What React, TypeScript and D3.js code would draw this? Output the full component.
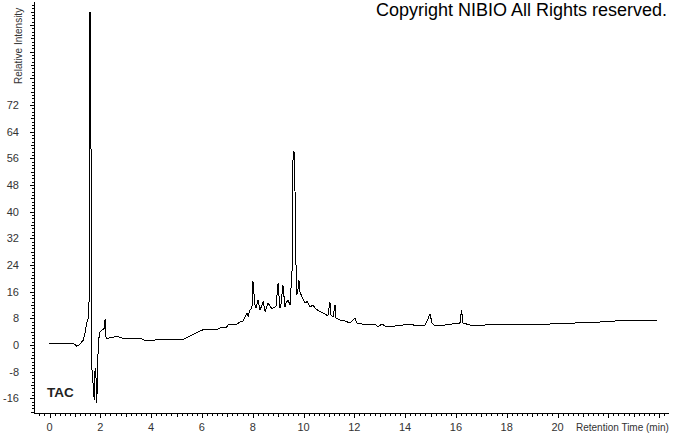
import React from "react";
import * as d3 from "d3";

// Retention time (min) and relative intensity
const times: number[] = [
  0.0, 0.14, 0.5, 0.93, 1.07, 1.2, 1.33, 1.4, 1.46, 1.5, 1.555, 1.56, 1.595, 1.62, 1.645, 1.66,
  1.72, 1.76, 1.79, 1.82, 1.86, 1.89, 1.92, 1.99, 2.08, 2.16, 2.19, 2.21, 2.25, 2.5, 2.65, 2.84,
  3.2, 3.63, 3.76, 4.15, 4.23, 4.55, 5.26, 5.53, 5.93, 6.12, 6.63, 6.79, 6.95, 7.03, 7.19, 7.34,
  7.5, 7.62, 7.7, 7.78, 7.82, 7.89, 7.97, 8.01, 8.09, 8.13, 8.21, 8.29, 8.41, 8.49, 8.6, 8.76,
  8.92, 9.0, 9.07, 9.11, 9.19, 9.27, 9.31, 9.39, 9.47, 9.55, 9.59, 9.65, 9.69, 9.74, 9.78, 9.82,
  9.86, 9.94, 10.06, 10.14, 10.26, 10.37, 10.49, 10.65, 10.85, 10.96, 11.04, 11.08, 11.16, 11.24,
  11.28, 11.44, 11.63, 11.83, 12.03, 12.09, 12.3, 12.62, 12.81, 12.93, 13.09, 13.2, 13.6, 14.27,
  14.39, 14.78, 14.9, 14.98, 15.06, 15.14, 15.57, 15.85, 16.16, 16.22, 16.28, 16.56, 17.15, 17.74,
  19.7, 21.67, 22.85, 23.92,
];
const intensity: number[] = [
  0.3, 0.6, 0.6, 0.6, -0.3, 0.2, 1.5, 3.6, 6.6, 7.5, 8.5, 26, 100, 96, 30, -6,
  -12, -16.5, -8, -7, -17.4, -10, 1, 4, 4.5, 5, 7.8, 2.5, 2, 2.3, 2.7, 2.1,
  2.0, 1.8, 1.3, 1.5, 1.8, 1.5, 1.6, 2.7, 4.2, 4.8, 4.8, 5.4, 5.1, 6, 6.3, 6,
  6.9, 7.2, 8.4, 9.6, 8.5, 10.5, 11, 19.2, 12, 11, 13.5, 10.5, 13, 10, 12.6, 10.8,
  11.7, 18.6, 11, 12, 18, 11.5, 12.6, 13.5, 12, 22.5, 58, 57.5, 28, 15, 16.5, 19.5,
  16, 14.4, 12.6, 13, 11.4, 12, 10.8, 10, 9.3, 8.7, 13, 9, 8.4, 12,
  8.1, 7.5, 7.2, 6.6, 8.1, 6.6, 6.3, 6, 6.3, 5.4, 6.3, 5.7, 5.7, 6.3,
  5.7, 6, 7.8, 9.3, 6.6, 6, 6, 6.3, 6.6, 10.5, 6.6, 6, 6, 6.3,
  6.3, 6.9, 7.5, 7.5,
];
const yTickLabels: number[] = [-16, -8, 0, 8, 16, 24, 32, 40, 48, 56, 64, 72];
const xTickLabels: number[] = [0, 2, 4, 6, 8, 10, 12, 14, 16, 18, 20];

const W = 673;
const H = 433;
const FONT = "'Liberation Sans', Arial, sans-serif";

export default function App() {
  const x = d3.scaleLinear().domain([0, 24]).range([49.5, 659.1]);
  const y = d3.scaleLinear().domain([0, 72]).range([345, 105]);

  const axisX = 34.5;
  const axisY = 413.5;

  const pts: [number, number][] = times.map((t, i) => [t, intensity[i]]);
  const line = d3
    .line<[number, number]>()
    .x((d) => x(d[0]))
    .y((d) => y(d[1]));

  const yMinor = d3.range(-20, 103, 1);
  const xMinor = d3.range(-2, 122, 1).map((k) => k * 0.2);

  return (
    <svg
      width={W}
      height={H}
      style={{ position: "absolute", left: 0, top: 0, background: "#fff" }}
    >
      <rect x={0} y={0} width={W} height={H} fill="#fff" />
      {/* y axis */}
      <line x1={axisX} x2={axisX} y1={2} y2={axisY} stroke="#000" shapeRendering="crispEdges" />
      {yMinor.map((v) => {
        const len = v % 8 === 0 ? 5 : v % 4 === 0 ? 3.5 : 2.5;
        const yy = Math.round(y(v)) + 0.5;
        if (yy < 2 || yy > axisY) return null;
        return (
          <line key={"yt" + v} x1={axisX - len} x2={axisX} y1={yy} y2={yy} stroke="#000" shapeRendering="crispEdges" />
        );
      })}
      {yTickLabels.map((v) => (
        <text
          key={"yl" + v}
          x={19}
          y={y(v)}
          dy="0.35em"
          textAnchor="end"
          fontFamily={FONT}
          fontSize={11}
          fill="#333"
        >
          {v}
        </text>
      ))}
      <text
        transform="translate(22,84) rotate(-90)"
        fontFamily={FONT}
        fontSize={10}
        fill="#333"
      >
        Relative Intensity
      </text>
      {/* x axis */}
      <line x1={axisX} x2={669} y1={axisY} y2={axisY} stroke="#000" shapeRendering="crispEdges" />
      {xMinor.map((t, i) => {
        const k = i - 2;
        const len = k % 10 === 0 ? 4.5 : k % 5 === 0 ? 3.5 : 2;
        const xx = Math.round(x(t)) + 0.5;
        return (
          <line key={"xt" + i} x1={xx} x2={xx} y1={axisY} y2={axisY + len} stroke="#000" shapeRendering="crispEdges" />
        );
      })}
      {xTickLabels.map((t) => (
        <text
          key={"xl" + t}
          x={x(t)}
          y={427}
          dy="0.35em"
          textAnchor="middle"
          fontFamily={FONT}
          fontSize={11}
          fill="#333"
        >
          {t}
        </text>
      ))}
      <text
        x={576}
        y={427}
        dy="0.35em"
        fontFamily={FONT}
        fontSize={10}
        fill="#333"
      >
        Retention Time (min)
      </text>
      {/* trace */}
      <path d={line(pts) || ""} fill="none" stroke="#000" strokeWidth={1} shapeRendering="crispEdges" />
      <text x={47} y={397} fontFamily={FONT} fontSize={13.5} fontWeight="bold" fill="#222">
        TAC
      </text>
      <text
        x={376}
        y={16}
        fontFamily={FONT}
        fontSize={17.5}
        fill="#000"
        textLength={291}
        lengthAdjust="spacingAndGlyphs"
      >
        Copyright NIBIO All Rights reserved.
      </text>
    </svg>
  );
}
